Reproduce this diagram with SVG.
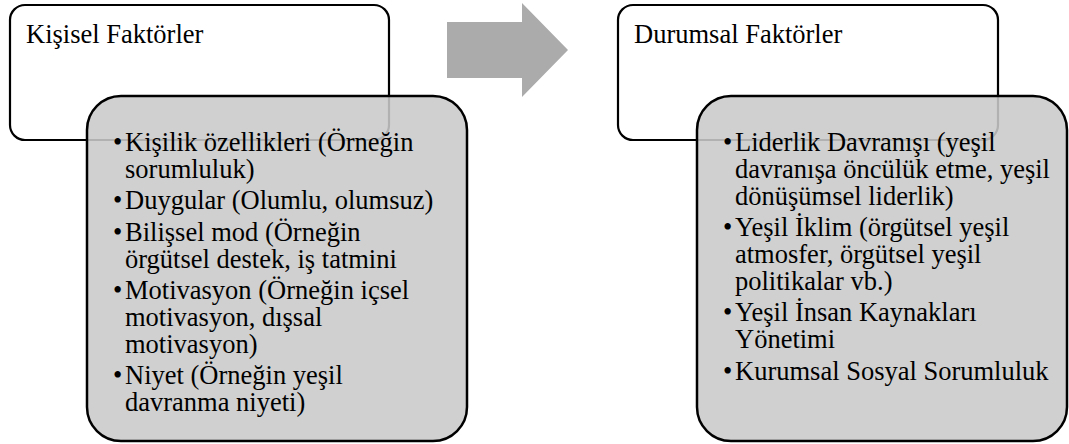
<svg xmlns="http://www.w3.org/2000/svg" width="1069" height="444" viewBox="0 0 1069 444">
<style>
.outer{fill:#ffffff;stroke:#000000;stroke-width:2.2}
.inner{fill:#cacaca;fill-opacity:0.88;stroke:#000000;stroke-width:2.5}
.arrow{fill:#ababab}
</style>
<rect width="1069" height="444" fill="#ffffff"/>
<g id="connectors">
<polygon class="arrow" points="447,22 522,22 522,3 568,50 522,97 522,78 447,78"/>
</g>
<g id="node-kisisel" font-family="'Liberation Serif', 'Times New Roman', serif" font-size="26.5">
<rect class="outer" x="10" y="5" width="379" height="135" rx="15" ry="15"/>
<text x="26" y="43">Kişisel Faktörler</text>
</g>
<g id="node-kisisel-items" font-family="'Liberation Serif', 'Times New Roman', serif" font-size="26.5">
<rect class="inner" x="87" y="96" width="380" height="345" rx="34" ry="34"/>
<text y="151"><tspan x="113">•</tspan><tspan x="125">Kişilik özellikleri (Örneğin</tspan><tspan x="125" y="177.9">sorumluluk)</tspan></text>
<text y="209.3"><tspan x="113">•</tspan><tspan x="125">Duygular (Olumlu, olumsuz)</tspan></text>
<text y="240.7"><tspan x="113">•</tspan><tspan x="125">Bilişsel mod (Örneğin</tspan><tspan x="125" y="267.6">örgütsel destek, iş tatmini</tspan></text>
<text y="299"><tspan x="113">•</tspan><tspan x="125">Motivasyon (Örneğin içsel</tspan><tspan x="125" y="325.9">motivasyon, dışsal</tspan><tspan x="125" y="352.8">motivasyon)</tspan></text>
<text y="384.2"><tspan x="113">•</tspan><tspan x="125">Niyet (Örneğin yeşil</tspan><tspan x="125" y="411.1">davranma niyeti)</tspan></text>
</g>
<g id="node-durumsal" font-family="'Liberation Serif', 'Times New Roman', serif" font-size="26.5">
<rect class="outer" x="618" y="5" width="380" height="135" rx="15" ry="15"/>
<text x="634" y="43">Durumsal Faktörler</text>
</g>
<g id="node-durumsal-items" font-family="'Liberation Serif', 'Times New Roman', serif" font-size="26.5">
<rect class="inner" x="697" y="96" width="370" height="345" rx="34" ry="34"/>
<text y="151"><tspan x="723">•</tspan><tspan x="735">Liderlik Davranışı (yeşil</tspan><tspan x="735" y="177.9">davranışa öncülük etme, yeşil</tspan><tspan x="735" y="204.8">dönüşümsel liderlik)</tspan></text>
<text y="236.2"><tspan x="723">•</tspan><tspan x="735">Yeşil İklim (örgütsel yeşil</tspan><tspan x="735" y="263.1">atmosfer, örgütsel yeşil</tspan><tspan x="735" y="290">politikalar vb.)</tspan></text>
<text y="321.4"><tspan x="723">•</tspan><tspan x="735">Yeşil İnsan Kaynakları</tspan><tspan x="735" y="348.3">Yönetimi</tspan></text>
<text y="379.7"><tspan x="723">•</tspan><tspan x="735">Kurumsal Sosyal Sorumluluk</tspan></text>
</g>
</svg>
